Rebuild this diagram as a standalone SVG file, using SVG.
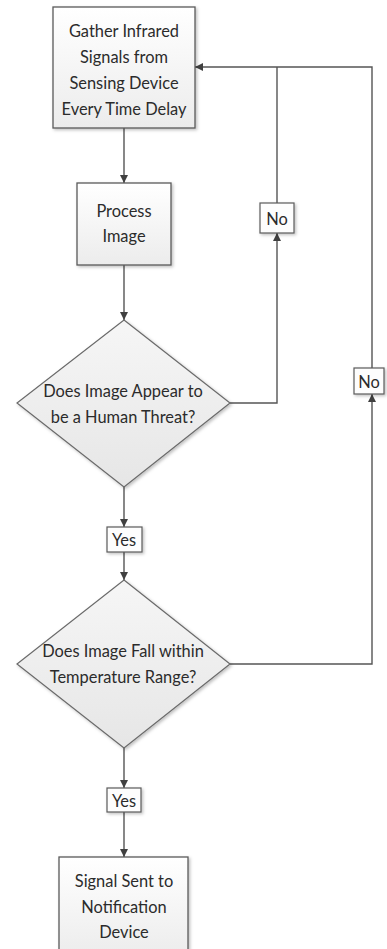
<svg xmlns="http://www.w3.org/2000/svg" width="387" height="949" viewBox="0 0 387 949">
<style>
text{font-family:Lato,"Liberation Sans",sans-serif;font-size:16.4px;fill:#2b2b2b;text-anchor:middle}
.box{fill:url(#gb);stroke:#5a5a5a;stroke-width:1.3}
.dia{fill:url(#gd);stroke:#6a6a6a;stroke-width:1.2}
.lbl{fill:#fdfdfd;stroke:#5a5a5a;stroke-width:1.2}
.c{fill:none;stroke:#555;stroke-width:1.4}
</style>
<defs>
<linearGradient id="gb" x1="0" y1="0" x2="0" y2="1"><stop offset="0" stop-color="#ffffff"/><stop offset="1" stop-color="#ececec"/></linearGradient>
<linearGradient id="gd" x1="0" y1="0" x2="0" y2="1"><stop offset="0" stop-color="#f6f6f6"/><stop offset="1" stop-color="#e6e6e6"/></linearGradient>
<filter id="sh" x="-10%" y="-10%" width="130%" height="130%"><feDropShadow dx="1.5" dy="1.5" stdDeviation="1.5" flood-color="#000" flood-opacity="0.25"/></filter>
<marker id="ah" viewBox="0 0 10 10" refX="10" refY="5" markerWidth="8" markerHeight="8" markerUnits="userSpaceOnUse" orient="auto"><path d="M0,0 L10,5 L0,10 z" fill="#404040"/></marker>
</defs>
<g id="connectors">
<path class="c" d="M124,128 V183" marker-end="url(#ah)"/>
<path class="c" d="M124,265 V320" marker-end="url(#ah)"/>
<path class="c" d="M124,487 V527" marker-end="url(#ah)"/>
<path class="c" d="M124,552 V580" marker-end="url(#ah)"/>
<path class="c" d="M124,748 V788" marker-end="url(#ah)"/>
<path class="c" d="M124,812 V857" marker-end="url(#ah)"/>
<path class="c" d="M230,403 H277 V233" marker-end="url(#ah)"/>
<path class="c" d="M277,203 V67"/>
<path class="c" d="M230,664 H372 V394" marker-end="url(#ah)"/>
<path class="c" d="M372,368 V67 H195" marker-end="url(#ah)"/>
</g>
<g id="gather">
<rect class="box" x="53" y="7" width="142" height="121" filter="url(#sh)"/>
<text x="124" y="37">Gather Infrared</text>
<text x="124" y="63">Signals from</text>
<text x="124" y="89">Sensing Device</text>
<text x="124" y="115">Every Time Delay</text>
</g>
<g id="process">
<rect class="box" x="77" y="183" width="94" height="82" filter="url(#sh)"/>
<text x="124" y="217">Process</text>
<text x="124" y="242">Image</text>
</g>
<g id="threat">
<polygon class="dia" points="124,320 230,403 124,487 17,403" filter="url(#sh)"/>
<text x="123" y="397">Does Image Appear to</text>
<text x="123" y="423">be a Human Threat?</text>
</g>
<g id="no1">
<rect class="lbl" x="260" y="203" width="34" height="30" filter="url(#sh)"/>
<text x="277" y="225">No</text>
</g>
<g id="yes1">
<rect class="lbl" x="107" y="527" width="35" height="25" filter="url(#sh)"/>
<text x="124" y="546">Yes</text>
</g>
<g id="temp">
<polygon class="dia" points="124,580 230,664 124,748 17,664" filter="url(#sh)"/>
<text x="123" y="657">Does Image Fall within</text>
<text x="123" y="683">Temperature Range?</text>
</g>
<g id="no2">
<rect class="lbl" x="354" y="368" width="30" height="26" filter="url(#sh)"/>
<text x="369" y="388">No</text>
</g>
<g id="yes2">
<rect class="lbl" x="107" y="788" width="34" height="24" filter="url(#sh)"/>
<text x="124" y="807">Yes</text>
</g>
<g id="signal">
<rect class="box" x="59" y="857" width="129" height="100" filter="url(#sh)"/>
<text x="124" y="887">Signal Sent to</text>
<text x="124" y="913">Notification</text>
<text x="124" y="938">Device</text>
</g>
</svg>
